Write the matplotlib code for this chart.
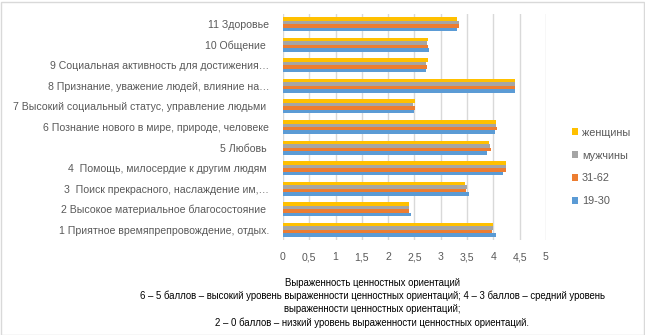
import numpy as np
import matplotlib
matplotlib.use("Agg")
import matplotlib.pyplot as plt
from matplotlib.patches import Rectangle

plt.rcParams['font.family'] = ['Liberation Sans', 'DejaVu Sans']

# категории снизу вверх
categories = [
    "1 Приятное времяпрепровождение, отдых.",
    "2 Высокое материальное благосостояние ",
    "3  Поиск прекрасного, наслаждение им,…",
    "4  Помощь, милосердие к другим людям ",
    "5 Любовь ",
    "6 Познание нового в мире, природе, человеке",
    "7 Высокий социальный статус, управление людьми ",
    "8 Признание, уважение людей, влияние на…",
    "9 Социальная активность для достижения…",
    "10 Общение ",
    "11 Здоровье",
]

age_19_30 = [4.05, 2.44, 3.54, 4.19, 3.88, 4.03, 2.50, 4.42, 2.72, 2.78, 3.31]
age_31_62 = [3.98, 2.40, 3.48, 4.24, 3.96, 4.07, 2.51, 4.42, 2.74, 2.76, 3.34]
men = [4.00, 2.40, 3.50, 4.24, 3.94, 4.05, 2.48, 4.42, 2.72, 2.74, 3.34]
women = [4.00, 2.40, 3.46, 4.24, 3.92, 4.05, 2.51, 4.42, 2.76, 2.76, 3.31]

series = [("19-30", age_19_30, "#5B9BD5"),
          ("31-62", age_31_62, "#ED7D31"),
          ("мужчины", men, "#A5A5A5"),
          ("женщины", women, "#FFC000")]

xticks = [0, 0.5, 1, 1.5, 2, 2.5, 3, 3.5, 4, 4.5, 5]
xtick_labels = ["0", "0,5", "1", "1,5", "2", "2,5", "3", "3,5", "4", "4,5", "5"]

title_lines = [
    "Выраженность ценностных ориентаций",
    "6 – 5 баллов – высокий уровень выраженности ценностных ориентаций; 4 – 3 баллов – средний уровень",
    "выраженности ценностных ориентаций;",
    "2 – 0 баллов – низкий уровень выраженности ценностных ориентаций.",
]

txt = "#595959"
W, H = 645, 335
fig = plt.figure(figsize=(W / 100, H / 100), dpi=100)
ax = fig.add_axes([283 / W, 1 - 240 / H, (546 - 283) / W, (240 - 14) / H])

y = np.arange(len(categories))
h = 0.17
handles = []
for i, (name, vals, col) in enumerate(series):
    b = ax.barh(y + (i - 1.5) * h, vals, height=h, color=col, label=name, zorder=2)
    handles.append(b)

ax.set_xlim(0, 5)
ax.set_ylim(-0.5, len(categories) - 0.5)
ax.set_xticks(xticks)
ax.set_xticklabels(xtick_labels)
ax.set_yticks(y)
ax.set_yticklabels(categories)
ax.xaxis.grid(True, color="#D9D9D9", linewidth=1, zorder=0)
ax.set_axisbelow(True)
for s in ax.spines.values():
    s.set_visible(False)
ax.tick_params(axis="both", length=0, colors=txt, labelsize=7.6)
ax.tick_params(axis="y", pad=10)
ax.tick_params(axis="x", pad=9)

# подпись оси: каждая строка отдельно, по базовой линии
for k, line in enumerate(title_lines):
    fig.text(372 / W, 1 - (286 + 13.2 * k) / H, line, fontsize=6.9,
             color="#000000", ha="center", va="baseline")

leg = fig.legend(handles[::-1], [s[0] for s in series][::-1],
                 loc="upper left", bbox_to_anchor=(562 / W, 1 - 118 / H),
                 frameon=False, fontsize=7.8, labelspacing=1.18,
                 handlelength=0.6, handleheight=0.6, handletextpad=0.35)
for t in leg.get_texts():
    t.set_color(txt)

fig.patches.append(Rectangle((0.5 / W, 0.5 / H), (W - 2) / W, (H - 2) / H,
                             transform=fig.transFigure, fill=False,
                             edgecolor="#D9D9D9", linewidth=1))

fig.savefig("out.png", dpi=100)
